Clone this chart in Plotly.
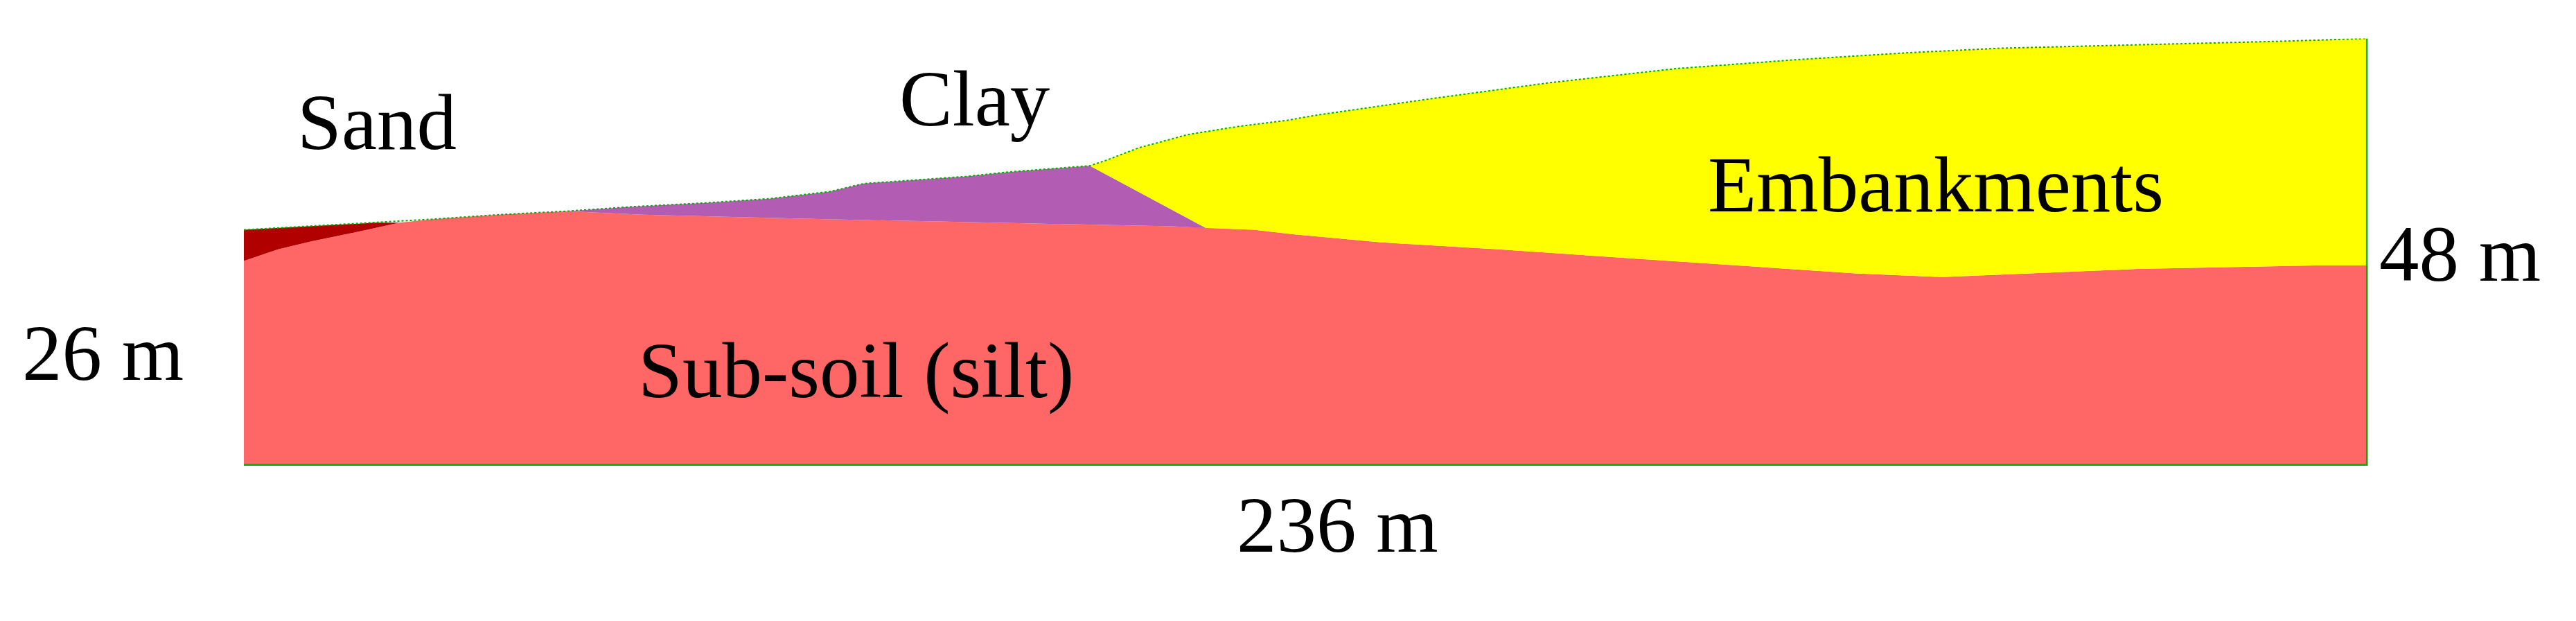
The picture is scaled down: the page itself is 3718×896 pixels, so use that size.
import plotly.graph_objects as go

# ground surface (top line)
surf_x = [0, 7, 14.6, 21, 28.3, 35.9, 43.2, 50.9, 58.4, 65.1, 68.9, 74.6, 80.3, 85, 90.5, 94,
          95.8, 99.4, 104.9, 110.4, 115.9, 119.3, 131.7, 144.9, 159, 172.3, 185, 195.1, 211, 227, 236]
surf_y = [26.5, 26.9, 27.3, 27.7, 28.2, 28.6, 29.1, 29.5, 30.0, 30.8, 31.7, 32.1, 32.5, 33.0, 33.4, 33.7,
          34.3, 35.7, 37.2, 38.1, 38.8, 39.4, 41.2, 43.0, 44.6, 45.6, 46.4, 46.9, 47.3, 47.7, 48]
# top of sub-soil (silt)
silt_x = [0, 3.8, 7.5, 13.7, 17.3, 21, 28.3, 35.9, 44.3, 64.6, 83.5, 103.1, 106.9, 112.2, 116.6,
          126.2, 139.4, 153, 165.9, 179.1, 188.7, 210.4, 230.2, 236]
silt_y = [23.0, 24.3, 25.2, 26.5, 27.3, 27.7, 28.2, 28.6, 28.2, 27.7, 27.3, 26.9, 26.7, 26.5, 26.0,
          25.1, 24.3, 23.4, 22.5, 21.6, 21.2, 22.1, 22.5, 22.5]
clay_peak = (94, 33.7)
clay_toe = (106.9, 26.7)

def seg(xs, ys, a, b):
    return [(x, y) for x, y in zip(xs, ys) if a <= x <= b]

fig = go.Figure()
def poly(pts, color):
    fig.add_trace(go.Scatter(x=[p[0] for p in pts], y=[p[1] for p in pts], fill="toself",
                             fillcolor=color, line=dict(width=0), mode="lines", hoverinfo="skip"))

poly([(0, 0), (236, 0)] + list(reversed(list(zip(silt_x, silt_y)))), "#ff6666")
poly(seg(surf_x, surf_y, 0, 17.3) + list(reversed(seg(silt_x, silt_y, 0, 17.3))), "#b00000")
poly(seg(surf_x, surf_y, 35.9, 94) + [clay_toe] + list(reversed(seg(silt_x, silt_y, 35.9, 103.1))), "#b35cb3")
poly([clay_peak] + seg(surf_x, surf_y, 95, 236) + list(reversed(seg(silt_x, silt_y, 107, 236))) + [clay_toe], "#ffff00")
fig.add_trace(go.Scatter(x=surf_x, y=surf_y, mode="lines", line=dict(color="#00b000", width=2, dash="dot"), hoverinfo="skip"))
fig.add_trace(go.Scatter(x=[0, 236, 236], y=[0, 0, 48], mode="lines", line=dict(color="#00b000", width=5), hoverinfo="skip"))

F = "Liberation Serif"
def lab(t, x, y, ref="data", anchor="center"):
    fig.add_annotation(text=t, x=x, y=y, xref="x" if ref == "data" else "paper",
                       yref="y" if ref == "data" else "paper", showarrow=False, xanchor=anchor,
                       font=dict(family=F, size=115, color="black"))
lab("Sand", 14.8, 38.6)
lab("Clay", 81.2, 41.2)
lab("Embankments", 188, 31.6)
lab("Sub-soil (silt)", 68, 10.7)
lab("26 m", 0.006, 0.44, "paper", "left")
lab("48 m", 0.921, 0.60, "paper", "left")
lab("236 m", 0.517, 0.09, "paper")

fig.update_layout(width=3718, height=896, margin=dict(l=0, r=0, t=0, b=0),
                  plot_bgcolor="white", paper_bgcolor="white", showlegend=False,
                  xaxis=dict(domain=[0.0925, 0.917], range=[0, 236], visible=False),
                  yaxis=dict(domain=[0.259, 0.947], range=[0, 48], visible=False))
fig.write_html("out.html")
